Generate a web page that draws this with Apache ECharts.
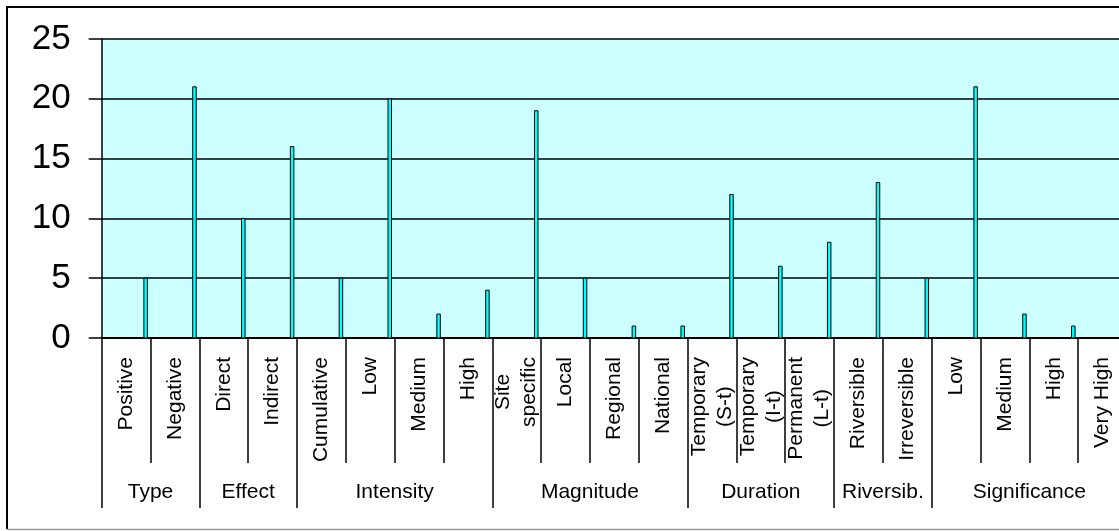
<!DOCTYPE html>
<html>
<head>
<meta charset="utf-8">
<script src="https://cdn.jsdelivr.net/npm/echarts@6/dist/echarts.min.js"></script>
<style>
  html, body { margin: 0; padding: 0; background: #fff; overflow: hidden; }
  #chart { width: 1119px; height: 531px; }
</style>
</head>
<body>
<div id="chart"></div>
<script>
// Impact characteristics and the number of impacts counted in each
const categories = [
  'Positive', 'Negative',
  'Direct', 'Indirect',
  'Cumulative', 'Low', 'Medium', 'High',
  'Site\nspecific', 'Local', 'Regional', 'National',
  'Temporary\n(S-t)', 'Temporary\n(I-t)', 'Permanent\n(L-t)',
  'Riversible', 'Irreversible',
  'Low', 'Medium', 'High', 'Very High'
];
const counts = [5, 21, 10, 16, 5, 20, 2, 4, 19, 5, 1, 1, 12, 6, 8, 13, 5, 21, 2, 1, 0];
const groupNames = ['Type', 'Effect', 'Intensity', 'Magnitude', 'Duration', 'Riversib.', 'Significance'];
const groupSizes = [2, 2, 4, 4, 3, 2, 4];
const yMin = 0, yMax = 25, yStep = 5;

// Group edges and centres, in category units along the x axis
const groupEdges = [0];
groupSizes.forEach(n => groupEdges.push(groupEdges[groupEdges.length - 1] + n));
const groupCenters = groupSizes.map((n, i) => groupEdges[i] + n / 2);

const FONT = '"Liberation Sans", Arial, sans-serif';
const lineStyle = { color: '#000', width: 1.5 };

const chart = echarts.init(document.getElementById('chart'), null, { renderer: 'canvas' });

chart.setOption({
  animation: false,
  backgroundColor: '#fff',
  grid: {
    left: 101.7, right: -8, top: 39, bottom: 193,
    show: true, backgroundColor: '#CCFFFF', borderWidth: 0,
    outerBoundsMode: 'none', containLabel: false
  },
  xAxis: [
    {
      type: 'category',
      data: categories,
      position: 'bottom',
      axisLine: { show: true, lineStyle: { color: '#000', width: 2 } },
      axisTick: { show: true, interval: 0, length: 125, lineStyle: lineStyle },
      axisLabel: {
        interval: 0,
        rotate: 90,
        margin: 19,
        formatter: v => v.split('\n').map(s => '{c|' + s + '}').join('\n'),
        rich: { c: { align: 'center', fontSize: 21, lineHeight: 26, fontFamily: FONT, color: '#000' } }
      },
      splitLine: { show: false }
    },
    {
      type: 'value',
      min: 0,
      max: categories.length,
      position: 'bottom',
      axisLine: { show: false },
      splitLine: { show: false },
      axisTick: { show: true, customValues: groupEdges, length: 170, lineStyle: lineStyle },
      axisLabel: {
        customValues: groupCenters,
        formatter: v => groupNames[groupCenters.indexOf(v)] || '',
        margin: 144,
        fontSize: 21,
        fontFamily: FONT,
        color: '#000'
      }
    }
  ],
  yAxis: {
    type: 'value',
    min: yMin, max: yMax, interval: yStep,
    axisLine: { show: true, lineStyle: lineStyle },
    axisTick: { show: true, length: 13, lineStyle: lineStyle },
    axisLabel: { fontSize: 35, fontFamily: FONT, color: '#000', margin: 31 },
    splitLine: { show: true, lineStyle: lineStyle }
  },
  series: [
    {
      type: 'custom',
      xAxisIndex: 0,
      yAxisIndex: 0,
      data: counts.map((v, i) => [i, v]),
      renderItem: (params, api) => {
        const v = api.value(1);
        if (!v) return null;
        const top = api.coord([api.value(0), v]);
        const base = api.coord([api.value(0), 0]);
        const band = api.size([1, 0])[0];
        const w = 3.5;
        const cx = top[0] + band * 0.4;
        return {
          type: 'rect',
          shape: { x: cx - w / 2, y: top[1], width: w, height: base[1] - top[1] },
          style: { fill: '#00FFFF', stroke: '#000', lineWidth: 1 }
        };
      }
    }
  ],
  graphic: [
    { type: 'polyline', silent: true, shape: { points: [[7, 529], [7, 7], [1119, 7]] },
      style: { stroke: '#000', lineWidth: 2, fill: null } },
    { type: 'line', silent: true, shape: { x1: 7, y1: 529.5, x2: 1119, y2: 529.5 },
      style: { stroke: '#999', lineWidth: 1.5 } }
  ]
});
</script>
</body>
</html>
